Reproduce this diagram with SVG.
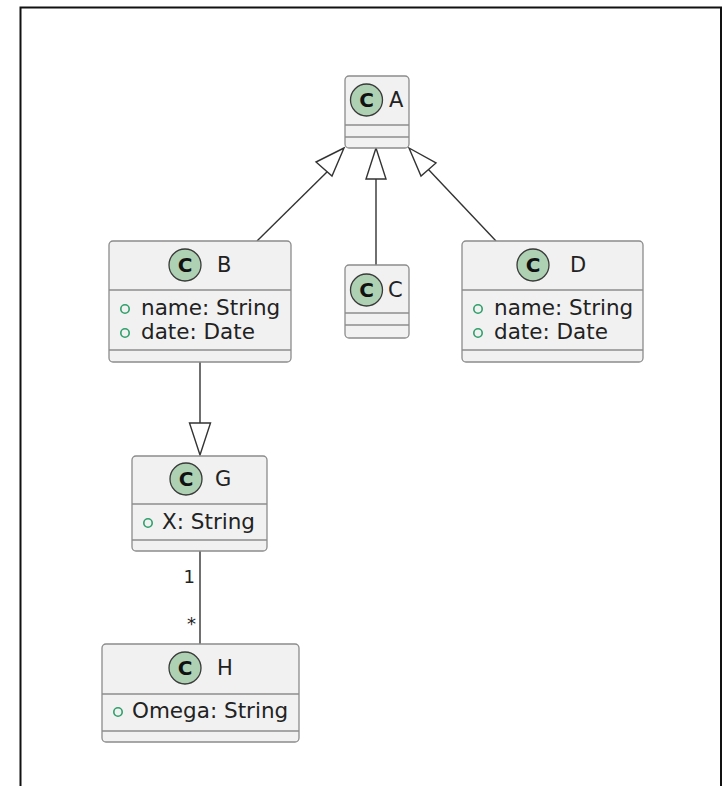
<svg xmlns="http://www.w3.org/2000/svg" width="725" height="786" viewBox="0 0 725 786">
  <defs>
    <style>
      .box { fill: #F1F1F1; stroke: #8c8c8c; stroke-width: 1.3; }
      .sep { stroke: #8c8c8c; stroke-width: 1.3; }
      .spot { fill: #ADD1B2; stroke: #3a3a3a; stroke-width: 1.3; }
      .spotc { font-family: "DejaVu Sans", sans-serif; font-weight: bold; font-size: 20px; fill: #111; text-anchor: middle; }
      .name { font-family: "DejaVu Sans", sans-serif; font-size: 21px; fill: #222; }
      .field { font-family: "DejaVu Sans", sans-serif; font-size: 21.5px; fill: #222; }
      .vis { fill: none; stroke: #2E9F6A; stroke-width: 1.6; }
      .edge { fill: none; stroke: #333; stroke-width: 1.4; }
      .head { fill: #fff; stroke: #333; stroke-width: 1.4; stroke-linejoin: miter; }
      .mult { font-family: "DejaVu Sans", sans-serif; font-size: 18px; fill: #222; text-anchor: end; }
    </style>
  </defs>
  <rect width="725" height="786" fill="#fff"/>
  <!-- outer frame -->
  <path d="M20.5 790 V7.5 H721 V790" fill="none" stroke="#111" stroke-width="2"/>

  <!-- connectors -->
  <g id="edges">
    <!-- B extends A -->
    <line class="edge" x1="257" y1="241" x2="330" y2="169"/>
    <polygon class="head" points="344,148 316,162 332,176"/>
    <!-- C extends A -->
    <line class="edge" x1="376" y1="265" x2="376" y2="179"/>
    <polygon class="head" points="376,148 366,179 386,179"/>
    <!-- D extends A -->
    <line class="edge" x1="496" y1="241" x2="428" y2="169"/>
    <polygon class="head" points="409,148 421,176 436,163"/>
    <!-- B to G -->
    <line class="edge" x1="200" y1="362" x2="200" y2="423"/>
    <polygon class="head" points="189.5,423 210.5,423 200,455"/>
    <!-- G to H association -->
    <line class="edge" x1="200" y1="551" x2="200" y2="644"/>
    <text class="mult" x="195" y="583">1</text>
    <text class="mult" x="196" y="630">*</text>
  </g>

  <g id="A">
    <rect class="box" x="345" y="76" width="64" height="72" rx="4"/>
    <line class="sep" x1="345" y1="125" x2="409" y2="125"/>
    <line class="sep" x1="345" y1="137" x2="409" y2="137"/>
    <circle class="spot" cx="366.5" cy="100" r="16"/>
    <text class="spotc" x="366.5" y="107">C</text>
    <text class="name" x="389" y="107">A</text>
  </g>

  <g id="B">
    <rect class="box" x="109" y="241" width="182" height="121" rx="4"/>
    <line class="sep" x1="109" y1="290" x2="291" y2="290"/>
    <line class="sep" x1="109" y1="350" x2="291" y2="350"/>
    <circle class="spot" cx="185" cy="265" r="16"/>
    <text class="spotc" x="185" y="272">C</text>
    <text class="name" x="217" y="272">B</text>
    <circle class="vis" cx="125" cy="309" r="4.2"/>
    <text class="field" x="141" y="315">name: String</text>
    <circle class="vis" cx="125" cy="333" r="4.2"/>
    <text class="field" x="141" y="339">date: Date</text>
  </g>

  <g id="C">
    <rect class="box" x="345" y="265" width="64" height="73" rx="4"/>
    <line class="sep" x1="345" y1="313" x2="409" y2="313"/>
    <line class="sep" x1="345" y1="325" x2="409" y2="325"/>
    <circle class="spot" cx="366.5" cy="290" r="16"/>
    <text class="spotc" x="366.5" y="297">C</text>
    <text class="name" x="388" y="297">C</text>
  </g>

  <g id="D">
    <rect class="box" x="462" y="241" width="181" height="121" rx="4"/>
    <line class="sep" x1="462" y1="290" x2="643" y2="290"/>
    <line class="sep" x1="462" y1="350" x2="643" y2="350"/>
    <circle class="spot" cx="533" cy="265" r="16"/>
    <text class="spotc" x="533" y="272">C</text>
    <text class="name" x="570" y="272">D</text>
    <circle class="vis" cx="478" cy="309" r="4.2"/>
    <text class="field" x="494" y="315">name: String</text>
    <circle class="vis" cx="478" cy="333" r="4.2"/>
    <text class="field" x="494" y="339">date: Date</text>
  </g>

  <g id="G">
    <rect class="box" x="132" y="456" width="135" height="95" rx="4"/>
    <line class="sep" x1="132" y1="504" x2="267" y2="504"/>
    <line class="sep" x1="132" y1="540" x2="267" y2="540"/>
    <circle class="spot" cx="186" cy="479" r="16"/>
    <text class="spotc" x="186" y="486">C</text>
    <text class="name" x="215" y="486">G</text>
    <circle class="vis" cx="148" cy="523" r="4.2"/>
    <text class="field" x="162" y="529">X: String</text>
  </g>

  <g id="H">
    <rect class="box" x="102" y="644" width="197" height="98" rx="4"/>
    <line class="sep" x1="102" y1="694" x2="299" y2="694"/>
    <line class="sep" x1="102" y1="731" x2="299" y2="731"/>
    <circle class="spot" cx="185" cy="668" r="16"/>
    <text class="spotc" x="185" y="675">C</text>
    <text class="name" x="217" y="675">H</text>
    <circle class="vis" cx="118" cy="712" r="4.2"/>
    <text class="field" x="132" y="718">Omega: String</text>
  </g>
</svg>
